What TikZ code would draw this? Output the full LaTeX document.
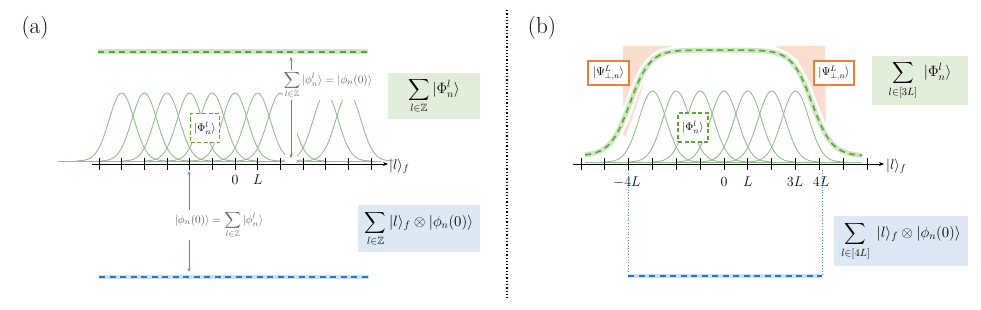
\RequirePackage{fix-cm}
\documentclass[tikz,border=0pt]{standalone}
\usepackage{amssymb}
\usetikzlibrary{arrows.meta}
\definecolor{gaussc}{RGB}{145,190,140}
\definecolor{gdashc}{RGB}{92,165,52}
\definecolor{gbandc}{RGB}{208,230,196}
\definecolor{garrowc}{RGB}{100,145,60}
\definecolor{bdashc}{RGB}{30,120,215}
\definecolor{bbandc}{RGB}{205,224,244}
\definecolor{barrowc}{RGB}{85,135,215}
\definecolor{gboxc}{RGB}{226,238,217}
\definecolor{bboxc}{RGB}{221,232,245}
\definecolor{orangec}{RGB}{240,125,60}
\definecolor{peachc}{RGB}{250,222,208}
\definecolor{graytext}{RGB}{95,95,95}
\tikzset{
  declare function={sg(\d)=1/(1+exp(-2*max(-4,min(4,\d/20))));
                    env(\t)=156-106*(sg(\t-630)-sg(\t-812));},
  gaussline/.style={draw=gaussc, line width=0.9pt},
  axisline/.style={draw=black, line width=0.9pt, -{Stealth[length=5pt,width=4pt]}},
  tickline/.style={draw=black, line width=0.9pt},
  gdash/.style={draw=gdashc, line width=1.6pt, dash pattern=on 6pt off 4.5pt},
  gband/.style={draw=gbandc, line width=5pt},
  bdash/.style={draw=bdashc, line width=1.6pt, dash pattern=on 6pt off 4.5pt},
  bband/.style={draw=bbandc, line width=4.5pt},
  phibox/.style={draw=gdashc, fill=white, line width=1.1pt, dash pattern=on 4pt off 2.5pt,
     minimum width=29pt, minimum height=29pt, inner sep=0pt, font=\fontsize{11}{13}\selectfont},
  psibox/.style={draw=orangec, fill=white, line width=1.2pt, minimum width=41pt,
     minimum height=24pt, inner sep=0pt, font=\fontsize{11.5}{13}\selectfont},
  gsumbox/.style={fill=gboxc, inner sep=0pt, font=\fontsize{15}{17}\selectfont},
  bsumbox/.style={fill=bboxc, inner sep=0pt, font=\fontsize{15}{17}\selectfont},
  ticklabel/.style={inner sep=0pt, font=\fontsize{14}{16}\selectfont},
  axlabel/.style={inner sep=0pt, anchor=west, font=\fontsize{14}{16}\selectfont},
  smalllabel/.style={fill=white, inner sep=1pt, text=graytext, font=\fontsize{11.3}{13}\selectfont},
  panellabel/.style={inner sep=0pt, font=\fontsize{23}{27}\selectfont},
  garrow/.style={draw=garrowc, line width=0.8pt, {Stealth[length=4pt,width=3pt]}-{Stealth[length=4pt,width=3pt]}},
  barrow/.style={draw=barrowc, line width=0.8pt, {Stealth[length=4pt,width=3pt]}-{Stealth[length=4pt,width=3pt]}},
  sepline/.style={draw=black, line width=1.3pt, dotted},
  bdotted/.style={draw=barrowc, line width=0.8pt, dotted},
}
\begin{document}
\begin{tikzpicture}[x=1pt,y=-1pt]
\useasboundingbox (0,0) rectangle (981,310);

% ---------------- panel (a) ----------------
\node[panellabel] (labA) at (35,28) {(a)};

% top green dashed line
\coordinate (gtA1) at (98,52);
\coordinate (gtA2) at (368,52);
\draw[gband] (gtA1) -- (gtA2);
\draw[gdash] (gtA1) -- (gtA2);

% bottom blue dashed line
\coordinate (btA1) at (99,277);
\coordinate (btA2) at (369,277);
\draw[bband] (btA1) -- (btA2);
\draw[bdash] (btA1) -- (btA2);

% gaussians
\coordinate (blA1) at (58,161);
\coordinate (blA2) at (381,161);
\draw[gaussline] (blA1) -- (blA2);
\foreach \c in {121.65,144.32,166.99,189.66,212.33,235,257.67,280.34,325.68,348.35}{
  \draw[gaussline] plot[domain=\c-45:\c+45, samples=70, smooth] (\x,{161-68*exp(-((\x-\c)*(\x-\c))/312.5)});
}
% gap behind the green arrow
\fill[white] (285,96) rectangle (297,161.6);

% axis
\coordinate (axA1) at (92,164);
\coordinate (axA2) at (388,164);
\draw[axisline] (axA1) -- (axA2);
\foreach \k in {-6,...,6}{
  \draw[tickline] ({235+22.67*\k},158) -- ({235+22.67*\k},170);
}
\node[ticklabel] (zeroA) at (235,180) {$0$};
\node[ticklabel] (LA) at (257.67,180) {$L$};
\node[axlabel] (lfA) at (389,166) {$|l\rangle_f$};

% dashed box
\node[phibox] (phiA) at (205,128) {$|\Phi_n^l\rangle$};

% green arrow with label
\coordinate (gaA1) at (291,57);
\coordinate (gaA2) at (291,158);
\draw[garrow] (gaA1) -- (gaA2);
\node[smalllabel] (gaLab) at (328,85)
  {$\displaystyle\sum_{l\in\mathbb{Z}}|\phi_n^l\rangle=|\phi_n(0)\rangle$};

% blue arrow with label
\coordinate (baA1) at (189,171);
\coordinate (baA2) at (189,272);
\draw[barrow] (baA1) -- (baA2);
\node[smalllabel] (baLab) at (219,225)
  {$|\phi_n(0)\rangle=\displaystyle\sum_{l\in\mathbb{Z}}|\phi_n^l\rangle$};

% right boxes
\node[gsumbox, minimum width=92pt, minimum height=46pt] (gsumA) at (434,96)
  {$\displaystyle\sum_{l\in\mathbb{Z}}|\Phi_n^l\rangle$};
\node[bsumbox, minimum width=122pt, minimum height=47pt] (bsumA) at (419,228.5)
  {$\displaystyle\sum_{l\in\mathbb{Z}}|l\rangle_f\otimes|\phi_n(0)\rangle$};

% separator
\coordinate (sep1) at (507,10);
\coordinate (sep2) at (507,298);
\draw[sepline] (sep1) -- (sep2);

% ---------------- panel (b) ----------------
\node[panellabel] (labB) at (542,28) {(b)};

% peach regions
\fill[peachc] (623,46) -- (672,46) -- (652,60) -- (626,136) -- (623,136) -- cycle;
\fill[peachc] (775,46) -- (825,46) -- (826,137) -- (823,137) -- (797,59) -- cycle;

% envelope
\draw[white, line width=10pt] plot[domain=585:862, samples=140, smooth] (\x,{env(\x)});
\draw[gband] plot[domain=585:862, samples=140, smooth] (\x,{env(\x)});

% gaussians (b)
\coordinate (blB1) at (585,162);
\coordinate (blB2) at (862,162);
\draw[gaussline] (blB1) -- (blB2);
\foreach \k in {-3,...,3}{
  \pgfmathsetmacro{\c}{724+23.83*\k}
  \draw[gaussline] plot[domain=\c-48:\c+48, samples=70, smooth] (\x,{162-71*exp(-((\x-\c)*(\x-\c))/364.5)});
}
\draw[gdash] plot[domain=585:862, samples=140, smooth] (\x,{env(\x)});

% axis (b)
\coordinate (axB1) at (573,164);
\coordinate (axB2) at (884,164);
\draw[axisline] (axB1) -- (axB2);
\foreach \k in {-6,...,6}{
  \draw[tickline] ({724+23.83*\k},158) -- ({724+23.83*\k},170);
}
\node[ticklabel] (m4LB) at (627,182) {$-4L$};
\node[ticklabel] (zeroB) at (724,182) {$0$};
\node[ticklabel] (LB) at (747.8,182) {$L$};
\node[ticklabel] (t3LB) at (795,182) {$3L$};
\node[ticklabel] (t4LB) at (821,182) {$4L$};
\node[axlabel] (lfB) at (886,166) {$|l\rangle_f$};

% dashed box (b)
\node[phibox, minimum width=30pt] (phiB) at (693,127.5) {$|\Phi_n^l\rangle$};

% orange boxes
\node[psibox] (psiL) at (608.5,73) {$|\Psi^L_{\perp,n}\rangle$};
\node[psibox, minimum width=40pt] (psiR) at (834,73) {$|\Psi^L_{\perp,n}\rangle$};

% blue dotted bracket
\coordinate (bd1) at (628,170);
\coordinate (bd2) at (628,276);
\coordinate (bd3) at (822,276);
\coordinate (bd4) at (822,170);
\draw[bdotted] (bd1) -- (bd2);
\draw[bdotted] (bd4) -- (bd3);
\draw[bband, line width=4pt] (bd2) -- (bd3);
\draw[bdash] (bd2) -- (bd3);

% right boxes (b)
\node[gsumbox, minimum width=96pt, minimum height=49pt] (gsumB) at (920,80.5)
  {$\displaystyle\sum_{l\in[3L]}\;|\Phi_n^l\rangle$};
\node[bsumbox, minimum width=134pt, minimum height=50pt] (bsumB) at (901,241)
  {$\displaystyle\sum_{l\in[4L]}\;|l\rangle_f\otimes|\phi_n(0)\rangle$};
\end{tikzpicture}
\end{document}
